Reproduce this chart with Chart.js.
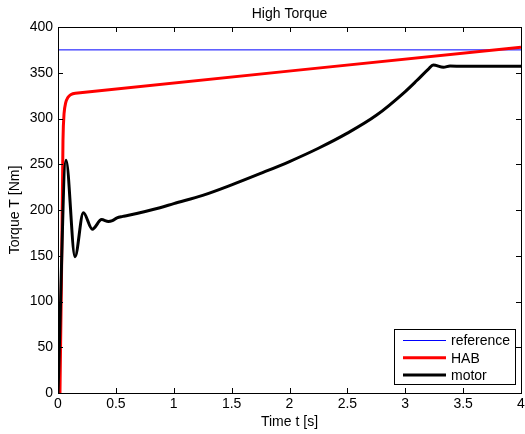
<!DOCTYPE html>
<html>
<head>
<meta charset="utf-8">
<script src="https://cdn.jsdelivr.net/npm/chart.js@4"></script>
<style>
  html, body { margin: 0; padding: 0; background: #fff; }
  #wrap { width: 525px; height: 434px; }
</style>
</head>
<body>
<div id="wrap"><canvas id="torqueChart"></canvas></div>
<script>
// reference torque (constant)
const refTime = [0, 4];
const refTorque = [375, 375];

// HAB torque
const habTime = [0, 0.017, 0.043, 0.052, 0.066, 0.085, 0.109, 0.15, 4];
const habTorque = [0, 0, 276, 305, 317, 323, 326, 327.5, 378];

// motor torque
const motorTime = [0, 0.069, 0.147, 0.219, 0.297, 0.377, 0.435, 0.47, 0.51, 0.56, 0.6, 0.881, 1.0, 1.25, 1.5, 1.75, 2.0, 2.25, 2.5, 2.75, 3.0, 3.1, 3.2, 3.242, 3.33, 3.387, 3.5, 4];
const motorTorque = [0, 254.5, 149, 197, 179, 189.5, 187.5, 188.5, 191.5, 193, 194, 202.5, 207, 216, 227.5, 240, 253, 267.5, 284, 303.5, 329.5, 341.5, 354, 358.5, 356, 357.4, 357, 357];

const xTicks = [0, 0.5, 1, 1.5, 2, 2.5, 3, 3.5, 4];
const yTicks = [0, 50, 100, 150, 200, 250, 300, 350, 400];

const FONT = 'Liberation Sans, Arial, Helvetica, sans-serif';

function toPoints(xs, ys) {
    return xs.map((x, i) => ({ x: x, y: ys[i] }));
}

// box, inward ticks, title and legend drawn Matlab style
const matlabAxes = {
    id: 'matlabAxes',
    afterDraw(chart) {
        const ctx = chart.ctx;
        const a = chart.chartArea;
        const xs = chart.scales.x;
        const ys = chart.scales.y;
        const tl = 5;

        ctx.save();
        ctx.strokeStyle = '#000';
        ctx.lineWidth = 1;
        ctx.beginPath();
        xTicks.forEach(v => {
            const px = Math.round(xs.getPixelForValue(v)) + 0.5;
            ctx.moveTo(px, a.bottom); ctx.lineTo(px, a.bottom - tl);
            ctx.moveTo(px, a.top); ctx.lineTo(px, a.top + tl);
        });
        yTicks.forEach(v => {
            const py = Math.round(ys.getPixelForValue(v)) + 0.5;
            ctx.moveTo(a.left, py); ctx.lineTo(a.left + tl, py);
            ctx.moveTo(a.right, py); ctx.lineTo(a.right - tl, py);
        });
        ctx.stroke();
        ctx.strokeRect(Math.round(a.left) + 0.5, Math.round(a.top) + 0.5,
            Math.round(a.right - a.left), Math.round(a.bottom - a.top));

        // title
        ctx.fillStyle = '#000';
        ctx.font = '14px ' + FONT;
        ctx.textAlign = 'center';
        ctx.textBaseline = 'alphabetic';
        ctx.fillText('High Torque', (a.left + a.right) / 2, 17.5);

        // legend
        const ds = chart.data.datasets;
        const bx = a.right - 127, by = a.bottom - 64, bw = 121, bh = 55;
        ctx.fillStyle = '#fff';
        ctx.fillRect(bx, by, bw, bh);
        ctx.strokeRect(bx + 0.5, by + 0.5, bw, bh);
        ctx.textAlign = 'left';
        ctx.textBaseline = 'middle';
        ds.forEach((d, i) => {
            const ly = by + 11.5 + i * 17.2;
            ctx.strokeStyle = d.borderColor;
            ctx.lineWidth = d.borderWidth;
            ctx.beginPath();
            ctx.moveTo(bx + 9, ly); ctx.lineTo(bx + 52, ly);
            ctx.stroke();
            ctx.fillStyle = '#000';
            ctx.fillText(d.label, bx + 57, ly + 1);
        });
        ctx.restore();
    }
};

const ctx = document.getElementById('torqueChart').getContext('2d');
new Chart(ctx, {
    type: 'line',
    data: {
        datasets: [
            { label: 'reference', data: toPoints(refTime, refTorque), borderColor: '#0000ff', borderWidth: 1, order: 3, tension: 0 },
            { label: 'HAB', data: toPoints(habTime, habTorque), borderColor: '#ff0000', borderWidth: 3, order: 2, tension: 0.3 },
            { label: 'motor', data: toPoints(motorTime, motorTorque), borderColor: '#000000', borderWidth: 3, order: 1, cubicInterpolationMode: 'monotone' }
        ]
    },
    options: {
        responsive: true,
        maintainAspectRatio: false,
        animation: false,
        elements: {
            point: { radius: 0 },
            line: { fill: false, capBezierPoints: true }
        },
        layout: { padding: { top: 27, right: 4, left: 0, bottom: 0 } },
        plugins: {
            legend: { display: false },
            tooltip: { enabled: false },
            title: { display: false }
        },
        scales: {
            x: {
                type: 'linear',
                min: 0, max: 4,
                afterBuildTicks: s => { s.ticks = xTicks.map(v => ({ value: v })); },
                afterFit: s => { s.height = 41; s.paddingLeft = 0; s.paddingRight = 0; },
                grid: { display: false, drawTicks: false, tickLength: 0 },
                border: { display: false },
                ticks: { color: '#000', font: { family: FONT, size: 14 }, padding: 3, maxRotation: 0, callback: v => String(v) },
                title: { display: true, text: 'Time t [s]', color: '#000', font: { family: FONT, size: 14 }, padding: { top: 0, bottom: 3 } }
            },
            y: {
                type: 'linear',
                min: 0, max: 400,
                afterBuildTicks: s => { s.ticks = yTicks.map(v => ({ value: v })); },
                afterFit: s => { s.width = 58; s.paddingTop = 0; s.paddingBottom = 0; },
                grid: { display: false, drawTicks: false, tickLength: 0 },
                border: { display: false },
                ticks: { color: '#000', font: { family: FONT, size: 14 }, padding: 5, callback: v => String(v) },
                title: { display: true, text: 'Torque T [Nm]', color: '#000', font: { family: FONT, size: 14 }, padding: { top: 7, bottom: 0 } }
            }
        }
    },
    plugins: [matlabAxes]
});
</script>
</body>
</html>
